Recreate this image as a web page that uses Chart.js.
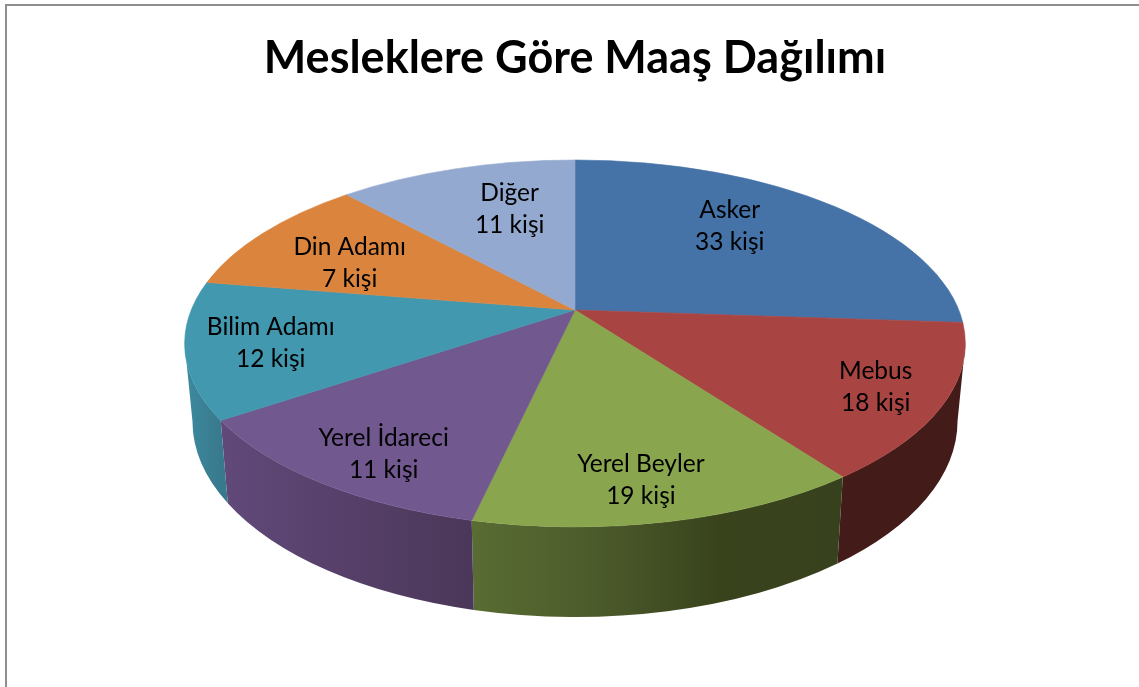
<!DOCTYPE html>
<html>
<head>
<meta charset="utf-8">
<style>
  html, body { margin: 0; padding: 0; background: #fff; }
  canvas { display: block; }
</style>
<script src="https://cdn.jsdelivr.net/npm/chart.js@4"></script>
</head>
<body>
<canvas id="myChart" width="1139" height="687"></canvas>
<script>
const titleText = 'Mesleklere Göre Maaş Dağılımı';
const professions = ['Asker', 'Mebus', 'Yerel Beyler', 'Yerel İdareci', 'Bilim Adamı', 'Din Adamı', 'Diğer'];
const personCounts = [33, 18, 19, 11, 12, 7, 11];
// slice size is the salary share, the labels show head counts
const salaryShares = [26.1, 13.75, 13.7, 12, 12, 10.65, 11.8];

const faceColors = ['#4572a7', '#a84543', '#89a54e', '#71588f', '#4198af', '#db843d', '#93a9cf'];
// left to right stops for the visible outer walls
const wallColors = [null, ['#431b19', '#431b19'], ['#596c33', '#4c5b2b', '#38431c', '#38411d'], ['#61497a', '#4b3759'], ['#3d8a9f', '#39798d'], null, null];

// fractions of the way to the rim, horizontal and vertical
const labelFractions = [[0.62, 0.79], [0.815, 0.81], [0.685, 0.8], [0.75, 0.83], [0.78, 0.82], [0.725, 0.62], [0.55, 0.72]];

const tilt = 0.4622, nearFar = 0.1825, wallDrop = 77.5, wallRx = 0.98, wallRy = 1.068;

const project = (arc, angle) => {
  const w = 1 - nearFar * Math.sin(angle);
  return {
    x: arc.outerRadius * Math.cos(angle) / w,
    y: arc.outerRadius * tilt * Math.sin(angle) / w
  };
};

const faceEllipse = arc => {
  const R = arc.outerRadius;
  const rx = R / Math.sqrt(1 - nearFar * nearFar);
  const top = -R * tilt / (1 + nearFar), bottom = R * tilt / (1 - nearFar);
  return { cx: arc.x, cy: arc.y + (top + bottom) / 2, rx, ry: (bottom - top) / 2 };
};

const rimParam = (arc, angle) => {
  const e = faceEllipse(arc), p = project(arc, angle);
  return Math.atan2((arc.y + p.y - e.cy) / e.ry, p.x / e.rx);
};

const perspectivePie = {
  id: 'perspectivePie',
  beforeDatasetsDraw(chart) {
    const { ctx } = chart;
    const arcs = chart.getDatasetMeta(0).data;
    const e = faceEllipse(arcs[0]);

    ctx.save();
    arcs.forEach((arc, i) => {
      if (!wallColors[i]) return;
      const t0 = rimParam(arc, arc.startAngle);
      let t1 = rimParam(arc, arc.endAngle);
      while (t1 < t0) t1 += Math.PI * 2;
      const from = Math.max(t0, 0), to = Math.min(t1, Math.PI);
      if (to <= from) return;
      const x0 = e.cx + e.rx * Math.cos(to), x1 = e.cx + e.rx * Math.cos(from);
      const grad = ctx.createLinearGradient(x0, 0, x1, 0);
      wallColors[i].forEach((c, n) => grad.addColorStop(n / (wallColors[i].length - 1), c));
      ctx.fillStyle = grad;
      ctx.beginPath();
      ctx.ellipse(e.cx, e.cy, e.rx, e.ry, 0, from, to);
      ctx.ellipse(e.cx, e.cy + wallDrop, e.rx * wallRx, e.ry * wallRy, 0, to, from, true);
      ctx.closePath();
      ctx.fill();
    });

    arcs.forEach((arc, i) => {
      ctx.fillStyle = ctx.strokeStyle = faceColors[i];
      ctx.lineWidth = 0.6;
      ctx.beginPath();
      ctx.moveTo(arc.x, arc.y);
      ctx.ellipse(e.cx, e.cy, e.rx, e.ry, 0, rimParam(arc, arc.startAngle), rimParam(arc, arc.endAngle));
      ctx.closePath();
      ctx.fill();
      ctx.stroke();
    });

    ctx.fillStyle = '#000';
    ctx.font = '24.5px Lato';
    ctx.textAlign = 'center';
    ctx.textBaseline = 'middle';
    arcs.forEach((arc, i) => {
      const p = project(arc, (arc.startAngle + arc.endAngle) / 2);
      const x = arc.x + p.x * labelFractions[i][0];
      const y = arc.y + p.y * labelFractions[i][1] + 1;
      ctx.fillText(professions[i], x, y - 16);
      ctx.fillText(personCounts[i] + ' kişi', x, y + 16);
    });
    ctx.restore();
    return false;
  }
};

const frameLines = {
  id: 'frameLines',
  beforeDraw(chart) {
    const { ctx, width, height } = chart;
    ctx.save();
    ctx.strokeStyle = '#8f8f8f';
    ctx.lineWidth = 2;
    ctx.beginPath();
    ctx.moveTo(6, height);
    ctx.lineTo(6, 5);
    ctx.lineTo(width, 5);
    ctx.stroke();
    ctx.restore();
  }
};

new Chart(document.getElementById('myChart').getContext('2d'), {
  type: 'pie',
  data: {
    labels: professions,
    datasets: [{
      data: salaryShares,
      backgroundColor: faceColors,
      borderWidth: 0
    }]
  },
  options: {
    responsive: false,
    animation: false,
    radius: 383.8,
    layout: { padding: { left: 11, bottom: 159 } },
    plugins: {
      legend: { display: false },
      tooltip: { enabled: false },
      title: {
        display: true,
        text: titleText,
        color: '#000',
        font: { family: 'Lato', size: 45, weight: 'bold', lineHeight: 1.2 },
        padding: { top: 31, bottom: 7 }
      }
    }
  },
  plugins: [frameLines, perspectivePie]
});
</script>
</body>
</html>
